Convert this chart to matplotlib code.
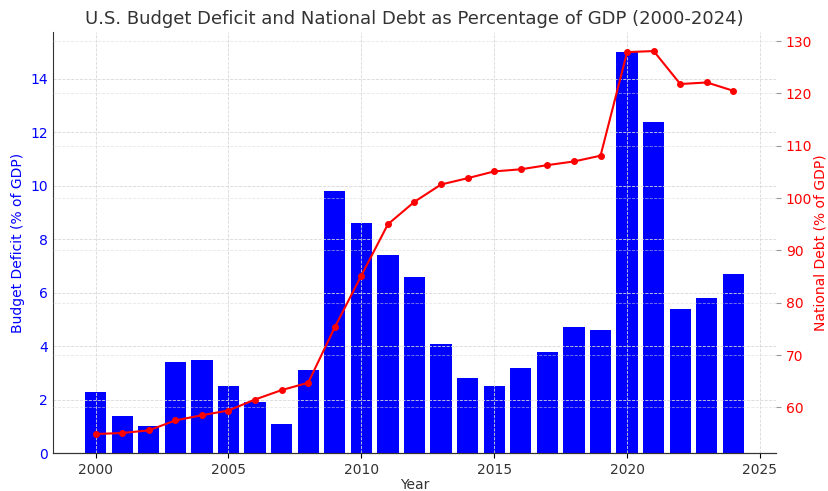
import matplotlib.pyplot as plt

# Donnees
years = list(range(2000, 2025))
deficit = [2.3, 1.4, 1.0, 3.4, 3.5, 2.5, 1.9, 1.1, 3.1, 9.8, 8.6, 7.4, 6.6,
           4.1, 2.8, 2.5, 3.2, 3.8, 4.7, 4.6, 15.0, 12.4, 5.4, 5.8, 6.7]
debt = [54.9, 55.1, 55.6, 57.5, 58.5, 59.4, 61.5, 63.3, 64.7, 75.3, 85.2,
        95.0, 99.3, 102.6, 103.8, 105.1, 105.5, 106.3, 107.0, 108.1,
        127.9, 128.1, 121.8, 122.1, 120.5]

fig, ax1 = plt.subplots(figsize=(8.29, 4.91), dpi=100)

ax1.bar(years, deficit, color='blue', width=0.8)
ax1.set_xlabel('Year', color='#333333', labelpad=1)
ax1.set_ylabel('Budget Deficit (% of GDP)', color='blue')
ax1.tick_params(axis='y', labelcolor='blue', length=0)
ax1.tick_params(axis='x', labelcolor='#333333')
ax1.grid(True, linestyle='--', color='#d8d8d8', linewidth=0.6)
ax1.set_xlim(1998.4, 2025.6)

ax2 = ax1.twinx()
ax2.plot(years, debt, color='red', marker='o', markersize=4, linewidth=1.5)
ax2.set_ylabel('National Debt (% of GDP)', color='red', labelpad=1)
ax2.tick_params(axis='y', labelcolor='red', color='#999999')
ax2.grid(True, linestyle='--', color='#d8d8d8', linewidth=0.6, alpha=0.6)

for ax in (ax1, ax2):
    ax.spines['top'].set_visible(False)
    ax.spines['right'].set_visible(False)
    ax.spines['left'].set_color('#333333')
    ax.spines['bottom'].set_color('#333333')
ax2.spines['left'].set_visible(False)

plt.title('U.S. Budget Deficit and National Debt as Percentage of GDP (2000-2024)',
          fontsize=13, color='#333333')
fig.subplots_adjust(left=0.064, right=0.936, top=0.935, bottom=0.077)
plt.savefig('out.png')
